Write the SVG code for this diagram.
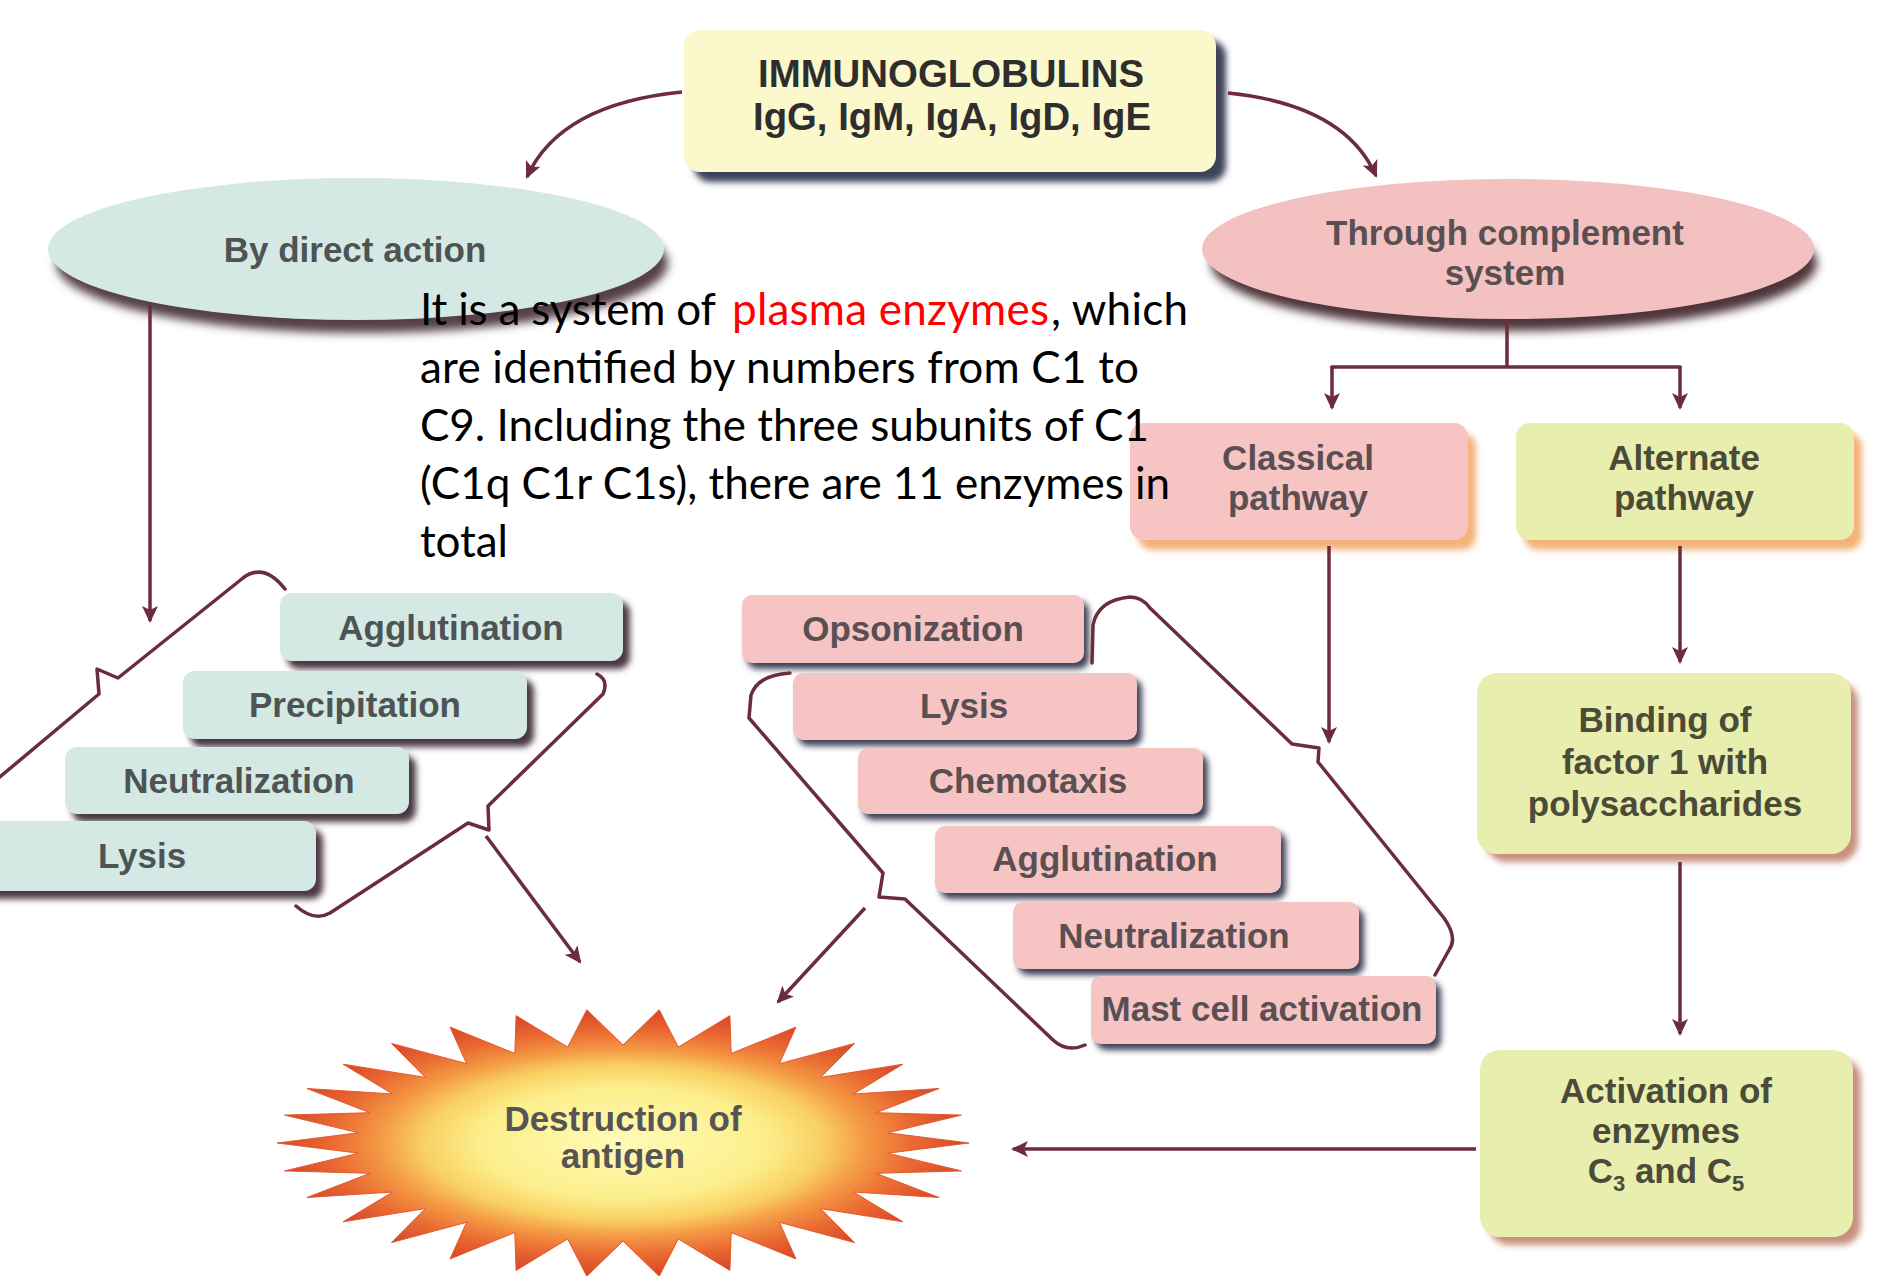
<svg xmlns="http://www.w3.org/2000/svg" width="1878" height="1276" viewBox="0 0 1878 1276">
<defs>
<style>
.lbl{font-family:"Liberation Sans",Arial,sans-serif;font-weight:bold;font-size:35px;text-anchor:middle;fill:#555555}
.big{font-size:38px;fill:#2e2e2e}
.gtx{fill:#4b4b38}
.ptx{fill:#5a4f52}
.ttx{fill:#4d5453}
.note{font-family:Lato,"Liberation Sans",sans-serif;font-size:44px;fill:#000000}
.red{fill:#ff0000}
.line{fill:none;stroke:#6b2d3b;stroke-width:3.5;stroke-linejoin:round;stroke-linecap:round}
.arr{fill:none;stroke:#6b2d3b;stroke-width:3.5;stroke-linecap:butt;marker-end:url(#ah)}
.teal{fill:#d5e9e4}
.tsh{fill:#4a3842}
.pink{fill:#f6c4c3}
.psh{fill:#3c3f56}
.green{fill:#e7eeae}
.gsh{fill:#c8907e}
.osh{fill:#f3b27a}
</style>
<marker id="ah" markerUnits="userSpaceOnUse" markerWidth="18" markerHeight="16" refX="15" refY="8" orient="auto">
<path d="M0,0 L17,8 L0,16 L4,8 z" fill="#6b2d3b"/>
</marker>
<radialGradient id="burst" cx="0.5" cy="0.5" r="0.5">
<stop offset="0" stop-color="#fffbb8"/>
<stop offset="0.42" stop-color="#fcee8a"/>
<stop offset="0.58" stop-color="#f9cf62"/>
<stop offset="0.7" stop-color="#f49a45"/>
<stop offset="0.84" stop-color="#ea6a32"/>
<stop offset="1" stop-color="#d84426"/>
</radialGradient>
<filter id="b3" x="-10%" y="-20%" width="120%" height="140%"><feGaussianBlur stdDeviation="3"/></filter>
<filter id="b5" x="-10%" y="-30%" width="120%" height="160%"><feGaussianBlur stdDeviation="5"/></filter>
</defs>

<rect width="1878" height="1276" fill="#ffffff"/>

<g id="immunoglobulins">
<rect x="694" y="40" width="532" height="142" rx="16" fill="#3d4358" filter="url(#b3)"/>
<rect x="684" y="30" width="532" height="142" rx="16" fill="#fbf8cc"/>
<text class="lbl big" x="951" y="87" textLength="386" lengthAdjust="spacingAndGlyphs">IMMUNOGLOBULINS</text>
<text class="lbl big" x="952" y="130" textLength="398" lengthAdjust="spacingAndGlyphs">IgG, IgM, IgA, IgD, IgE</text>
</g>

<g id="direct-action">
<ellipse cx="362" cy="263" rx="306" ry="70" fill="#55404a" filter="url(#b5)"/>
<ellipse cx="356" cy="249" rx="308" ry="71" fill="#d5e9e4"/>
<text class="lbl ttx" x="355" y="262">By direct action</text>
</g>

<g id="complement-system">
<ellipse cx="1514" cy="263" rx="303" ry="68" fill="#4d353b" filter="url(#b5)"/>
<ellipse cx="1508" cy="249" rx="306" ry="70" fill="#f3c1c0"/>
<text class="lbl ptx" x="1505" y="245">Through complement</text>
<text class="lbl ptx" x="1505" y="285">system</text>
</g>

<g id="classical-pathway">
<rect x="1138" y="433" width="338" height="117" rx="14" class="osh" filter="url(#b3)"/>
<rect x="1130" y="423" width="338" height="117" rx="14" class="pink"/>
<text class="lbl ptx" x="1298" y="470">Classical</text>
<text class="lbl ptx" x="1298" y="510">pathway</text>
</g>

<g id="alternate-pathway">
<rect x="1524" y="433" width="338" height="117" rx="14" class="osh" filter="url(#b3)"/>
<rect x="1516" y="423" width="338" height="117" rx="14" class="green"/>
<text class="lbl gtx" x="1684" y="470">Alternate</text>
<text class="lbl gtx" x="1684" y="510">pathway</text>
</g>

<g id="binding">
<rect x="1486" y="682" width="372" height="180" rx="20" class="gsh" filter="url(#b3)"/>
<rect x="1477" y="673" width="374" height="181" rx="20" class="green"/>
<text class="lbl gtx" x="1665" y="732">Binding of</text>
<text class="lbl gtx" x="1665" y="774">factor 1 with</text>
<text class="lbl gtx" x="1665" y="816">polysaccharides</text>
</g>

<g id="activation">
<rect x="1489" y="1059" width="372" height="186" rx="20" class="gsh" filter="url(#b3)"/>
<rect x="1480" y="1050" width="373" height="187" rx="20" class="green"/>
<text class="lbl gtx" x="1666" y="1103">Activation of</text>
<text class="lbl gtx" x="1666" y="1143">enzymes</text>
<text class="lbl gtx" x="1666" y="1183">C<tspan font-size="22" dy="8">3</tspan><tspan dy="-8"> and C</tspan><tspan font-size="22" dy="8">5</tspan></text>
</g>

<g id="destruction-of-antigen">
<polygon fill="url(#burst)" stroke="#e2592c" stroke-width="1" points="969,1143 887.5,1153.2 961.4,1170.9 876,1173.3 939.1,1197.5 853.4,1192 902.9,1221.8 820.7,1208.6 854.5,1242.6 779.4,1222.3 796,1259 731.2,1232.5 729.9,1270.4 678.3,1238.9 659.2,1276.3 623,1241 586.8,1276.3 567.7,1238.9 516.1,1270.4 514.8,1232.5 450,1259 466.6,1222.3 391.5,1242.6 425.3,1208.6 343.1,1221.8 392.6,1192 306.9,1197.5 370,1173.3 284.6,1170.9 358.5,1153.2 277,1143 358.5,1132.8 284.6,1115.1 370,1112.7 306.9,1088.5 392.6,1094 343.1,1064.2 425.3,1077.4 391.5,1043.4 466.6,1063.7 450,1027 514.8,1053.5 516.1,1015.6 567.7,1047.1 586.8,1009.7 623,1045 659.2,1009.7 678.3,1047.1 729.9,1015.6 731.2,1053.5 796,1027 779.4,1063.7 854.5,1043.4 820.7,1077.4 902.9,1064.2 853.4,1094 939.1,1088.5 876,1112.7 961.4,1115.1 887.5,1132.8"/>
<text class="lbl" x="623" y="1131" fill="#4f4f2e">Destruction of</text>
<text class="lbl" x="623" y="1168" fill="#4f4f2e">antigen</text>
</g>

<g id="direct-effects">
<g id="d-agglutination">
<rect x="287" y="601" width="343" height="68" rx="12" class="tsh" filter="url(#b3)"/>
<rect x="280" y="593" width="343" height="68" rx="12" class="teal"/>
<text class="lbl ttx" x="451" y="640">Agglutination</text>
</g>
<g id="d-precipitation">
<rect x="190" y="679" width="344" height="68" rx="12" class="tsh" filter="url(#b3)"/>
<rect x="183" y="671" width="344" height="68" rx="12" class="teal"/>
<text class="lbl ttx" x="355" y="717">Precipitation</text>
</g>
<g id="d-neutralization">
<rect x="72" y="755" width="344" height="67" rx="12" class="tsh" filter="url(#b3)"/>
<rect x="65" y="747" width="344" height="67" rx="12" class="teal"/>
<text class="lbl ttx" x="239" y="793">Neutralization</text>
</g>
<g id="d-lysis">
<rect x="-21" y="829" width="344" height="70" rx="12" class="tsh" filter="url(#b3)"/>
<rect x="-28" y="821" width="344" height="70" rx="12" class="teal"/>
<text class="lbl ttx" x="142" y="868">Lysis</text>
</g>
</g>

<g id="complement-effects">
<g id="c-opsonization">
<rect x="747" y="601" width="342" height="68" rx="10" class="psh" filter="url(#b3)"/>
<rect x="742" y="595" width="342" height="68" rx="10" class="pink"/>
<text class="lbl ptx" x="913" y="641">Opsonization</text>
</g>
<g id="c-lysis">
<rect x="798" y="679" width="344" height="67" rx="10" class="psh" filter="url(#b3)"/>
<rect x="793" y="673" width="344" height="67" rx="10" class="pink"/>
<text class="lbl ptx" x="964" y="718">Lysis</text>
</g>
<g id="c-chemotaxis">
<rect x="863" y="754" width="345" height="66" rx="10" class="psh" filter="url(#b3)"/>
<rect x="858" y="748" width="345" height="66" rx="10" class="pink"/>
<text class="lbl ptx" x="1028" y="793">Chemotaxis</text>
</g>
<g id="c-agglutination">
<rect x="940" y="832" width="346" height="67" rx="10" class="psh" filter="url(#b3)"/>
<rect x="935" y="826" width="346" height="67" rx="10" class="pink"/>
<text class="lbl ptx" x="1105" y="871">Agglutination</text>
</g>
<g id="c-neutralization">
<rect x="1018" y="908" width="346" height="67" rx="10" class="psh" filter="url(#b3)"/>
<rect x="1013" y="902" width="346" height="67" rx="10" class="pink"/>
<text class="lbl ptx" x="1174" y="948">Neutralization</text>
</g>
<g id="c-mast-cell">
<rect x="1096" y="982" width="345" height="68" rx="10" class="psh" filter="url(#b3)"/>
<rect x="1091" y="976" width="345" height="68" rx="10" class="pink"/>
<text class="lbl ptx" x="1262" y="1021">Mast cell activation</text>
</g>
</g>

<g id="connectors">
<path class="arr" d="M682 92 Q560 104 527 177"/>
<path class="arr" d="M1228 93 Q1345 105 1376 176"/>
<path class="arr" d="M150 305 L150 621"/>
<path class="line" d="M1507 322 L1507 367 M1332 367 L1680 367"/>
<path class="arr" d="M1332 366 L1332 408"/>
<path class="arr" d="M1680 366 L1680 408"/>
<path class="arr" d="M1329 546 L1329 742"/>
<path class="arr" d="M1680 546 L1680 662"/>
<path class="arr" d="M1680 862 L1680 1034"/>
<path class="arr" d="M1476 1149 L1013 1149"/>
<path class="line" d="M-5 781 L99 694 L97 669 L118 678 L243 578 Q264 562 285 589"/>
<path class="line" d="M597 674 Q609 680 603 694 L488 806 L489 830 L468 823 L330 913 Q314 922 296 906"/>
<path class="arr" d="M486 836 L580 962"/>
<path class="line" d="M790 673 Q758 675 751 695 L749 718 L883 873 L879 897 L905 899 L1053 1040 Q1067 1053 1085 1045"/>
<path class="arr" d="M865 908 L778 1002"/>
<path class="line" d="M1092 663 L1093 625 Q1098 600 1130 597 Q1142 597 1150 608 L1292 744 L1319 748 L1318 762 L1444 918 Q1458 938 1449 950 L1435 975"/>
</g>

<g id="note">
<text class="note" y="325"><tspan x="420" textLength="296">It is a system of</tspan><tspan x="732" textLength="317" class="red">plasma enzymes</tspan><tspan x="1051" textLength="137">, which</tspan></text>
<text class="note" x="420" y="383" textLength="719">are identified by numbers from C1 to</text>
<text class="note" x="420" y="441" textLength="729">C9. Including the three subunits of C1</text>
<text class="note" x="420" y="499" textLength="750">(C1q C1r C1s), there are 11 enzymes in</text>
<text class="note" x="420" y="557" textLength="88">total</text>
</g>
</svg>
